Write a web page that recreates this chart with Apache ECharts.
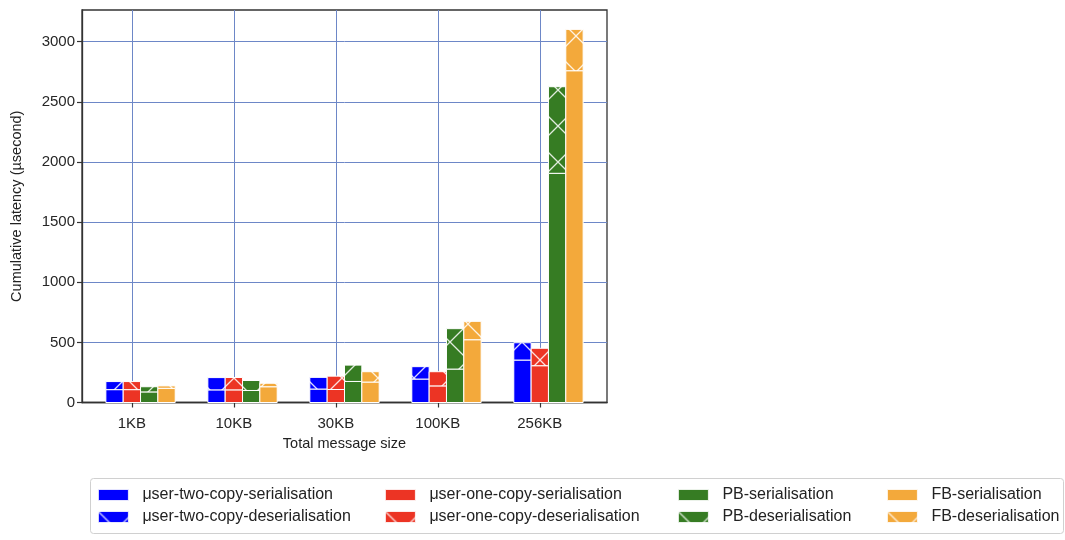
<!DOCTYPE html>
<html>
<head>
<meta charset="utf-8">
<script src="https://cdn.jsdelivr.net/npm/echarts@6/dist/echarts.min.js"></script>
<style>
  html, body { margin: 0; padding: 0; background: #fff; }
  #chart { width: 1065px; height: 540px; }
</style>
</head>
<body>
<div id="chart"></div>
<script>
// Message sizes on the x axis
const categories = ['1KB', '10KB', '30KB', '100KB', '256KB'];

// Latency components (µs): serialisation part and deserialisation part stacked on it
const twoCopySer   = [107, 105, 112, 195, 353];
const twoCopyDeser = [67, 102, 97, 103, 144];
const oneCopySer   = [107, 105, 108, 138, 306];
const oneCopyDeser = [67, 103, 111, 118, 145];
const pbSer        = [88, 100, 175, 278, 1906];
const pbDeser      = [43, 83, 136, 336, 720];
const fbSer        = [118, 131, 170, 522, 2759];
const fbDeser      = [20, 29, 86, 153, 344];

const yTicks = [0, 500, 1000, 1500, 2000, 2500, 3000];

const FONT = 'Liberation Sans, Arial, sans-serif';
const BAR_W = 0.17;

// White diagonal cross-hatch drawn over a base colour, used as a repeating fill
function hatch(color) {
  const s = 36;
  const c = document.createElement('canvas');
  c.width = s; c.height = s;
  const g = c.getContext('2d');
  g.fillStyle = color;
  g.fillRect(0, 0, s, s);
  g.strokeStyle = 'rgba(255,255,255,0.85)';
  g.lineWidth = 1.3;
  g.beginPath();
  for (let k = -1; k <= 1; k++) {
    g.moveTo(k * s, 0); g.lineTo(k * s + s, s);
    g.moveTo(k * s, s); g.lineTo(k * s + s, 0);
  }
  g.stroke();
  return { image: c, repeat: 'repeat' };
}

const groups = [
  { ser: 'μser-two-copy-serialisation', deser: 'μser-two-copy-deserialisation', color: '#0000ff', s: twoCopySer, d: twoCopyDeser },
  { ser: 'μser-one-copy-serialisation', deser: 'μser-one-copy-deserialisation', color: '#ec3424', s: oneCopySer, d: oneCopyDeser },
  { ser: 'PB-serialisation', deser: 'PB-deserialisation', color: '#367c23', s: pbSer, d: pbDeser },
  { ser: 'FB-serialisation', deser: 'FB-deserialisation', color: '#f3a93b', s: fbSer, d: fbDeser }
];

const legendLefts = [98, 385, 678, 887];

function barSeries(name, fill, offset, rows) {
  return {
    type: 'custom',
    name: name,
    itemStyle: { color: fill },
    encode: { x: 0, y: [1, 2] },
    data: rows,
    renderItem: function (params, api) {
      const xc = api.value(0) + offset;
      const lo = api.value(1), hi = api.value(2);
      const p0 = api.coord([xc - BAR_W / 2, hi]);
      const p1 = api.coord([xc + BAR_W / 2, lo]);
      return {
        type: 'rect',
        shape: { x: p0[0], y: p0[1], width: p1[0] - p0[0], height: p1[1] - p0[1] },
        style: { fill: fill, stroke: '#ffffff', lineWidth: 1 }
      };
    }
  };
}

const series = [];
groups.forEach(function (g, k) {
  const offset = (k - 1) * BAR_W;
  const solid = g.color;
  const hatched = hatch(g.color);
  series.push(barSeries(g.ser, solid, offset, categories.map((c, i) => [i, 0, g.s[i]])));
  series.push(barSeries(g.deser, hatched, offset, categories.map((c, i) => [i, g.s[i], g.s[i] + g.d[i]])));
});

const legends = groups.map(function (g, k) {
  return {
    orient: 'vertical',
    left: legendLefts[k],
    top: 487,
    padding: 0,
    itemWidth: 30,
    itemHeight: 11,
    itemGap: 6,
    icon: 'rect',
    selectedMode: false,
    itemStyle: { borderColor: '#ffffff', borderWidth: 0.8 },
    textStyle: { fontFamily: FONT, fontSize: 16, lineHeight: 16, color: '#222', padding: [0, 0, 0, 9] },
    data: [g.ser, g.deser]
  };
});

const chart = echarts.init(document.getElementById('chart'), null, { renderer: 'canvas' });
chart.setOption({
  backgroundColor: '#ffffff',
  animation: false,
  textStyle: { fontFamily: FONT },
  grid: {
    left: 82, right: 458, top: 10, bottom: 137.5,
    show: true, borderColor: '#333', borderWidth: 1.3, backgroundColor: 'transparent'
  },
  xAxis: {
    type: 'value',
    min: -0.489,
    max: 4.659,
    name: 'Total message size',
    nameLocation: 'middle',
    nameGap: 33,
    nameTextStyle: { fontFamily: FONT, fontSize: 14.5, color: '#222' },
    axisLine: { show: true, onZero: false, lineStyle: { color: '#333', width: 1.3 } },
    axisTick: { show: true, customValues: [0, 1, 2, 3, 4], length: 5, lineStyle: { color: '#333', width: 1.2 } },
    axisLabel: {
      customValues: [0, 1, 2, 3, 4],
      formatter: function (v) { return categories[Math.round(v)]; },
      margin: 14, fontFamily: FONT, fontSize: 15, color: '#262626'
    },
    splitLine: { show: true, lineStyle: { color: '#6d87c7', width: 1 } }
  },
  yAxis: {
    type: 'value',
    min: 0,
    max: 3264,
    name: 'Cumulative latency (µsecond)',
    nameLocation: 'middle',
    nameGap: 58,
    nameTextStyle: { fontFamily: FONT, fontSize: 14.5, color: '#222' },
    axisLine: { show: true, onZero: false, lineStyle: { color: '#333', width: 1.3 } },
    axisTick: { show: true, customValues: yTicks, length: 5, lineStyle: { color: '#333', width: 1.2 } },
    axisLabel: {
      customValues: yTicks,
      formatter: function (v) { return String(v); },
      margin: 7, fontFamily: FONT, fontSize: 15, color: '#262626'
    },
    splitLine: { show: true, lineStyle: { color: '#6d87c7', width: 1 } }
  },
  legend: legends,
  graphic: [{
    type: 'rect',
    left: 90, top: 478, z: -1,
    shape: { width: 973, height: 55, r: 3 },
    style: { fill: '#ffffff', stroke: '#d0d0d0', lineWidth: 1 }
  }],
  series: series
});
</script>
</body>
</html>
